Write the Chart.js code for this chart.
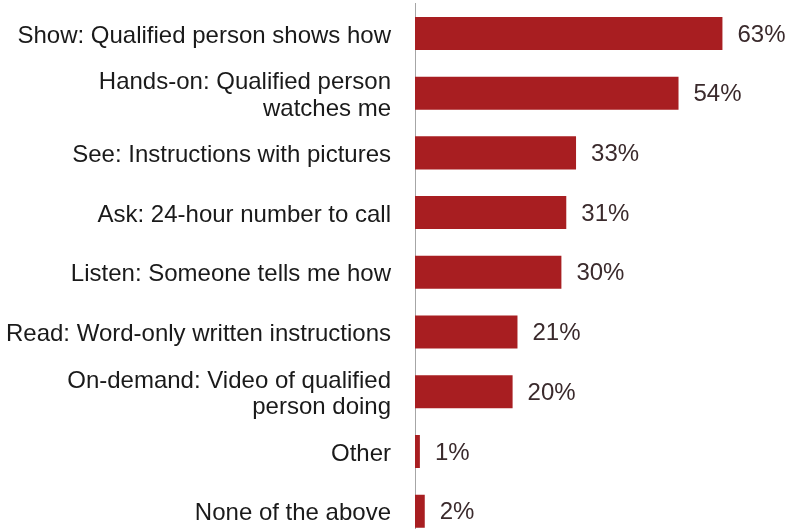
<!DOCTYPE html>
<html>
<head>
<meta charset="utf-8">
<script src="https://cdn.jsdelivr.net/npm/chart.js@4/dist/chart.umd.min.js"></script>
<style>
  html, body { margin: 0; padding: 0; background: #fff; overflow: hidden; }
  canvas { display: block; }
</style>
</head>
<body>
<canvas id="chart" width="787" height="545"></canvas>
<script>
const categories = [
    'Show: Qualified person shows how',
    ['Hands-on: Qualified person', 'watches me'],
    'See: Instructions with pictures',
    'Ask: 24-hour number to call',
    'Listen: Someone tells me how',
    'Read: Word-only written instructions',
    ['On-demand: Video of qualified', 'person doing'],
    'Other',
    'None of the above'
];
const shares = [63, 54, 33, 31, 30, 21, 20, 1, 2];

const barColor = '#A81E21';
const fontFamily = "'Liberation Sans', Arial, sans-serif";

// percent label to the right of each bar
const valueLabels = {
    id: 'valueLabels',
    afterDatasetsDraw(chart) {
        const ctx = chart.ctx;
        const meta = chart.getDatasetMeta(0);
        ctx.save();
        ctx.font = '24px ' + fontFamily;
        ctx.fillStyle = '#3a2a2c';
        ctx.textAlign = 'left';
        ctx.textBaseline = 'middle';
        meta.data.forEach((bar, i) => {
            ctx.fillText(shares[i] + '%', bar.x + 15, bar.y + 1.5);
        });
        ctx.restore();
    }
};

new Chart(document.getElementById('chart'), {
    type: 'bar',
    data: {
        labels: categories,
        datasets: [{
            data: shares,
            backgroundColor: barColor,
            borderWidth: 0,
            barPercentage: 0.553,
            categoryPercentage: 1
        }]
    },
    options: {
        indexAxis: 'y',
        responsive: false,
        animation: false,
        layout: { padding: { top: 3.6, bottom: 4, left: 0, right: 6 } },
        plugins: {
            legend: { display: false },
            tooltip: { enabled: false }
        },
        scales: {
            x: {
                display: false,
                min: 0,
                max: 75
            },
            y: {
                afterFit(scale) {
                    // fixed label column, no extra room above/below the bars
                    scale.width = 415;
                    scale.paddingTop = 0;
                    scale.paddingBottom = 0;
                },
                grid: { display: false, drawTicks: false },
                border: { display: true, color: '#a6a6a6', width: 1 },
                ticks: {
                    padding: 24,
                    labelOffset: 2.5,
                    color: '#1a1a1a',
                    font: { family: fontFamily, size: 24, lineHeight: 1.11 }
                }
            }
        }
    },
    plugins: [valueLabels]
});
</script>
</body>
</html>
